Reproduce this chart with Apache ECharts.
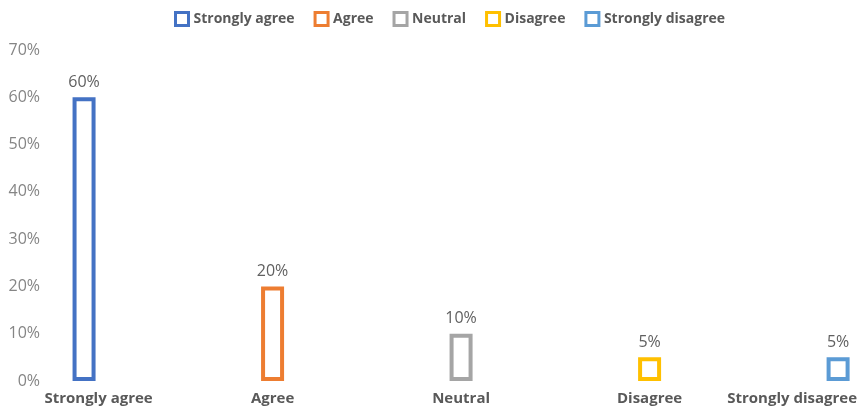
<!DOCTYPE html>
<html>
<head>
<meta charset="utf-8">
<script src="https://cdn.jsdelivr.net/npm/echarts@6/dist/echarts.min.js"></script>
<style>
  html, body { margin: 0; padding: 0; background: #ffffff; }
  #chart { width: 860px; height: 408px; }
</style>
</head>
<body>
<div id="chart"></div>
<script>
// Survey response shares by answer
const categories = ['Strongly agree', 'Agree', 'Neutral', 'Disagree', 'Strongly disagree'];
const seriesNames = ['Strongly agree', 'Agree', 'Neutral', 'Disagree', 'Strongly disagree'];
const values = [60, 20, 10, 5, 5];
const colors = ['#4472C4', '#ED7D31', '#A5A5A5', '#FFC000', '#5B9BD5'];
const yTicks = [0, 10, 20, 30, 40, 50, 60, 70];

const FONT = '"Open Sans", "Noto Sans", sans-serif';

// Category positions on a numeric x scale (index of each answer)
const catIndex = categories.map(function (_, i) { return i; });

// One series per answer, each placed at its own category position
const series = seriesNames.map(function (name, i) {
  return {
    name: name,
    type: 'bar',
    data: [[catIndex[i], values[i]]],
    barWidth: 23,
    barGap: '-100%',
    itemStyle: {
      color: '#ffffff',
      borderColor: colors[i],
      borderWidth: 4
    },
    label: {
      show: true,
      position: 'top',
      distance: 7,
      formatter: function (p) { return p.value[1] + '%'; },
      color: '#606060',
      fontSize: 16,
      fontFamily: FONT
    }
  };
});

const catLabelStyle = { color: '#595959', fontSize: 15, fontWeight: 'bold', fontFamily: FONT };

const chart = echarts.init(document.getElementById('chart'), null, { renderer: 'canvas' });
chart.setOption({
  animation: false,
  color: colors,
  legend: {
    top: 6,
    left: 169,
    itemWidth: 13,
    itemHeight: 13,
    itemGap: 19,
    icon: 'rect',
    textStyle: { color: '#595959', fontSize: 14, fontWeight: 'bold', fontFamily: FONT },
    data: seriesNames.map(function (n, i) {
      return { name: n, itemStyle: { color: '#ffffff', borderColor: colors[i], borderWidth: 3 } };
    })
  },
  grid: { left: 0, right: 0, top: 50, height: 331 },
  xAxis: {
    type: 'value',
    min: -0.4459,
    max: 4.0923,
    axisLine: { show: false },
    axisTick: { show: false },
    splitLine: { show: false },
    axisLabel: {
      customValues: catIndex,
      margin: 10,
      color: catLabelStyle.color,
      fontSize: catLabelStyle.fontSize,
      fontWeight: catLabelStyle.fontWeight,
      fontFamily: FONT,
      formatter: function (v) {
        const name = categories[Math.round(v)];
        if (Math.round(v) === 0) return '{first|' + name + '}';
        if (Math.round(v) === categories.length - 1) return '{last|' + name + '}';
        return name;
      },
      rich: {
        first: Object.assign({ padding: [0, 0, 0, 29] }, catLabelStyle),
        last: Object.assign({ padding: [0, 92, 0, 0] }, catLabelStyle)
      }
    }
  },
  yAxis: {
    type: 'value',
    min: 0,
    max: 70,
    interval: 10,
    offset: -48,
    axisLine: { show: false },
    axisTick: { show: false },
    splitLine: { show: false },
    axisLabel: {
      color: '#858585', fontSize: 16, fontFamily: FONT, margin: 8,
      formatter: function (v) { return yTicks.indexOf(v) >= 0 ? v + '%' : ''; }
    }
  },
  series: series
});
</script>
</body>
</html>
